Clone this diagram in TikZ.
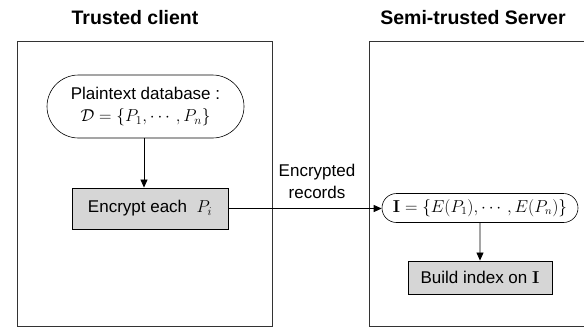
\documentclass[tikz,border=0pt]{standalone}
\usepackage{amsmath, amssymb}
\usepackage[no-math]{fontspec}
\setmainfont{Liberation Sans}
\usetikzlibrary{shapes.misc, arrows.meta}

\tikzset{
	zone/.style={draw=black!80, line width=0.8pt},
	title/.style={font=\bfseries\fontsize{19.5}{22}\selectfont},
	pill/.style={draw, rounded rectangle, line width=0.6pt, align=center, inner sep=1pt, font=\fontsize{17}{22}\selectfont},
	task/.style={draw, fill=black!16, line width=0.9pt, inner sep=0pt, font=\fontsize{17}{21}\selectfont},
	flow/.style={-{Triangle[length=8pt, width=7pt]}, line width=0.8pt}
}

\begin{document}
\begin{tikzpicture}[x=1pt, y=-1pt]
\useasboundingbox (0,0) rectangle (584,327);
\clip (0,0) rectangle (584,327);

\draw[zone] (17,41) rectangle (272,326);
\draw[zone] (369,41) rectangle (620,326);

\path (135,18) node[title] (client) {Trusted client}
		(473,18) node[title] (server) {Semi-trusted Server}
		(145.5,106.5) node[pill, minimum width=199pt, minimum height=63pt] (plain) {Plaintext database :\\ $\mathcal{D}=\{P_1,\cdots,P_n\}$}
		(150,208.5) node[task, minimum width=156pt, minimum height=41pt] (enc) {Encrypt each~ $P_i$}
		(480,208) node[pill, minimum width=198pt, minimum height=29pt, font=\fontsize{16}{20}\selectfont] (idx) {$\mathbf{I}=\{E(P_1),\cdots,E(P_n)\}$}
		(480,277.5) node[task, minimum width=144pt, minimum height=33pt] (build) {Build index on $\mathbf{I}$}
		(317,181) node[align=center, font=\fontsize{17}{22}\selectfont] (recs) {Encrypted\\records}
		;

\draw[flow] ([xshift=-1.5pt]plain.south) -- ([xshift=-1.5pt]plain.south |- enc.north);
\draw[flow] (enc.east) -- (enc.east -| idx.west);
\draw[flow] (idx) -- (build);
\end{tikzpicture}
\end{document}
